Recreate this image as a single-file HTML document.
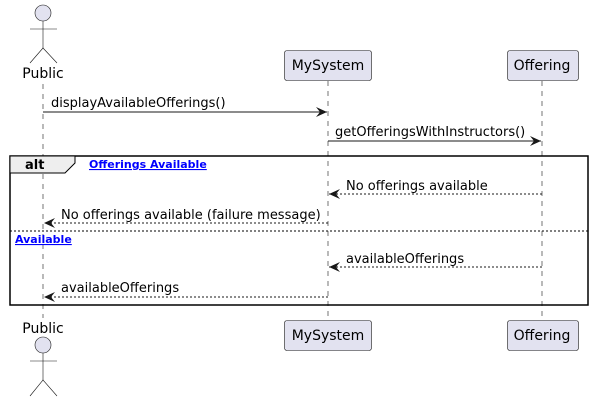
<!DOCTYPE html>
<html><head><style>body{margin:0;background:#fff}svg{display:block}text{font-family:"DejaVu Sans","Liberation Sans",sans-serif}</style></head><body>
<svg width="594" height="401" viewBox="0 0 594 401" xmlns="http://www.w3.org/2000/svg">
<defs><marker id="a" viewBox="0 0 12 10" refX="11" refY="5" markerWidth="12" markerHeight="10" orient="auto" markerUnits="userSpaceOnUse"><path d="M0,0 L11,5 L0,10 L4,5 Z" fill="#181818"/></marker></defs>
<g stroke="#181818" stroke-width="0.6" stroke-dasharray="5,5">
<line x1="43" y1="84" x2="43" y2="318"/><line x1="328" y1="81" x2="328" y2="320"/><line x1="542" y1="81" x2="542" y2="320"/></g>
<g stroke="#181818" stroke-width="0.6" fill="none">
<circle cx="43" cy="13" r="8" fill="#E2E2F0"/><line x1="43" y1="21" x2="43" y2="48"/><line x1="30" y1="29" x2="57" y2="29"/><path d="M30,63 L43,48 L57,63"/>
<circle cx="43" cy="345" r="8" fill="#E2E2F0"/><line x1="43" y1="353" x2="43" y2="380"/><line x1="30" y1="361" x2="57" y2="361"/><path d="M30,396 L43,380 L57,396"/>
</g>
<g font-size="14" fill="#000"><text x="43" y="78" text-anchor="middle">Public</text><text x="43" y="333" text-anchor="middle">Public</text></g>
<g fill="#E2E2F0" stroke="#181818" stroke-width="0.6">
<rect x="284.5" y="50.5" width="87" height="30" rx="2.5"/><rect x="507.5" y="50.5" width="71" height="30" rx="2.5"/>
<rect x="284.5" y="320.5" width="87" height="30" rx="2.5"/><rect x="507.5" y="320.5" width="71" height="30" rx="2.5"/></g>
<g font-size="14" text-anchor="middle"><text x="328" y="70">MySystem</text><text x="542" y="70">Offering</text><text x="328" y="340">MySystem</text><text x="542" y="340">Offering</text></g>
<rect x="10" y="156" width="578" height="149" fill="none" stroke="#000" stroke-width="1.5"/>
<path d="M10,156 L75,156 L75,163 L65,173 L10,173 Z" fill="#EEEEEE" stroke="#000" stroke-width="1"/>
<text x="25" y="169" font-size="13" font-weight="bold">alt</text>
<text x="89" y="168" font-size="11" font-weight="bold" fill="#0000FF" text-decoration="underline">Offerings Available</text>
<line x1="10" y1="231" x2="588" y2="231" stroke="#000" stroke-width="1" stroke-dasharray="2,2"/>
<text x="15" y="243" font-size="11" font-weight="bold" fill="#0000FF" text-decoration="underline">Available</text>
<g stroke="#181818" stroke-width="1" marker-end="url(#a)">
<line x1="43" y1="112" x2="327" y2="112"/><line x1="328" y1="141" x2="541" y2="141"/></g>
<g stroke="#181818" stroke-width="1" stroke-dasharray="2,2" marker-end="url(#a)">
<line x1="542" y1="194" x2="329" y2="194"/><line x1="328" y1="223" x2="44" y2="223"/>
<line x1="542" y1="267" x2="329" y2="267"/><line x1="328" y1="297" x2="44" y2="297"/></g>
<g font-size="13">
<text x="51" y="107">displayAvailableOfferings()</text>
<text x="335" y="136">getOfferingsWithInstructors()</text>
<text x="346" y="190">No offerings available</text>
<text x="61" y="219">No offerings available (failure message)</text>
<text x="346" y="263">availableOfferings</text>
<text x="61" y="292">availableOfferings</text></g>
</svg>
</body></html>
